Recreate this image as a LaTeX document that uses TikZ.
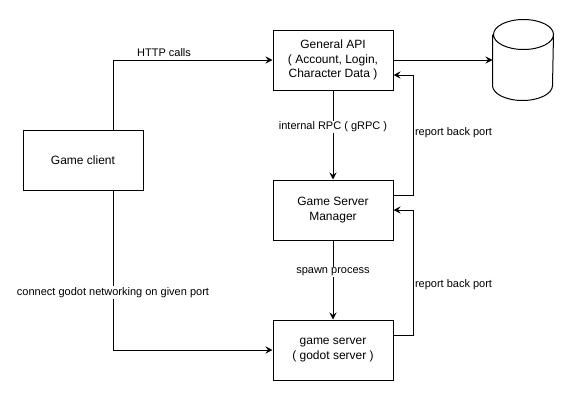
\documentclass[tikz,border=0pt]{standalone}
\usepackage{fontspec}
\setmainfont{Liberation Sans}
\usetikzlibrary{arrows.meta}

\begin{document}
\begin{tikzpicture}[x=1pt, y=-1pt, line width=1pt,
    box/.style={draw, minimum width=120pt, minimum height=60pt, align=center,
        font=\fontsize{12}{14.4}\selectfont},
    lbl/.style={font=\fontsize{11}{13}\selectfont, fill=white, inner sep=1pt},
    >={Stealth[length=7pt, width=7pt, inset=2.5pt]}]
    \useasboundingbox (0,0) rectangle (575,402);
    \node[box] (client) at (83,160) {Game client};
    \node[box] (api) at (333,60) {General API\\( Account, Login,\\Character Data )};
    \node[box] (gsm) at (333,210) {Game Server\\Manager};
    \node[box] (gs) at (333,350) {game server\\( godot server )};
    % database cylinder
    \node[minimum width=60pt, minimum height=80pt, inner sep=0pt] (db) at (523,60) {};
    \draw ([yshift=-15pt]db.north west) -- ([yshift=15pt]db.south west)
        arc[start angle=180, end angle=360, x radius=30pt, y radius=15pt]
        -- ([yshift=-15pt]db.north east)
        arc[start angle=0, end angle=180, x radius=30pt, y radius=15pt]
        arc[start angle=180, end angle=360, x radius=30pt, y radius=15pt];
    % client side
    \draw[->] ([xshift=30pt]client.north) |- node[lbl, above=2pt, pos=0.66, fill=none] {HTTP calls} (api.west);
    \draw[->] ([xshift=30pt]client.south) |- node[lbl, pos=0.32] {connect godot networking on given port} (gs.west);
    % api and servers
    \draw[->] (api.east) -- (db.west);
    \draw[->] (api) -- node[lbl, pos=0.41] {internal RPC ( gRPC )} (gsm);
    \draw[->] (gsm) -- node[lbl, pos=0.4] {spawn process} (gs);
    \draw[->] ([yshift=15pt]gsm.east) -| node[lbl, right, pos=0.76, fill=none] {report back port}
        ([xshift=20pt, yshift=-15pt]api.east) -- ([yshift=-15pt]api.east);
    \draw[->] ([yshift=15pt]gs.east) -| node[lbl, right, pos=0.7, fill=none] {report back port}
        ([xshift=20pt]gsm.east) -- (gsm.east);
\end{tikzpicture}
\end{document}
